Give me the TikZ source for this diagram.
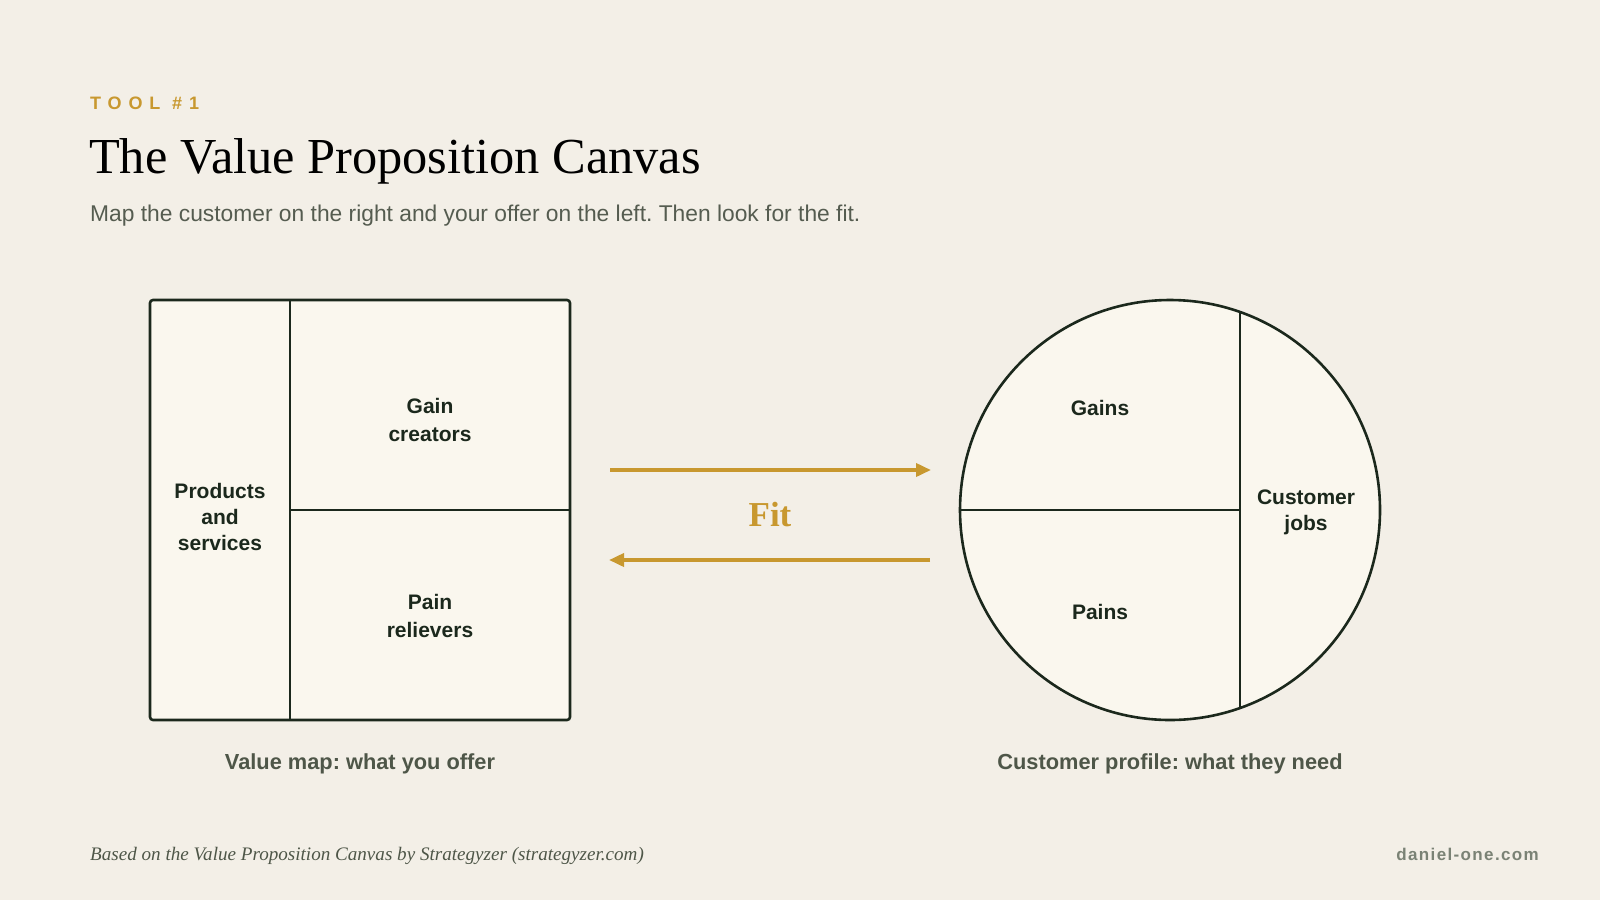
\documentclass[tikz,border=0pt]{standalone}
\usepackage{fontspec}
\setmainfont{Liberation Serif}
\setsansfont{Liberation Sans}
\usetikzlibrary{arrows.meta}
\definecolor{bg}{HTML}{F3EFE7}
\definecolor{panel}{HTML}{FAF7EE}
\definecolor{ink}{HTML}{1B281C}
\definecolor{gold}{HTML}{C8982F}
\definecolor{muted}{HTML}{555C50}
\definecolor{caption}{HTML}{4E5648}
\definecolor{faint}{HTML}{7A8275}
\frenchspacing
\tikzset{
  shapeline/.style={draw=ink, line width=2.6pt, fill=panel},
  divider/.style={draw=ink, line width=1.8pt},
  celltext/.style={font=\sffamily\bfseries\fontsize{21}{26}\selectfont, text=ink, align=center},
  widecell/.style={celltext, font=\sffamily\bfseries\fontsize{21}{28.5}\selectfont},
  fitarrow/.style={draw=gold, line width=3.6pt, -{Triangle[length=15pt,width=13pt]}},
  captiontext/.style={font=\sffamily\bfseries\fontsize{21.8}{24}\selectfont, text=caption},
}
\begin{document}
\begin{tikzpicture}[x=1pt,y=-1pt]
\useasboundingbox[fill=bg] (0,0) rectangle (1600,900);

% header
\node[anchor=west, inner sep=0, text=gold, font=\sffamily\bfseries\fontsize{18}{20}\selectfont\addfontfeature{LetterSpace=38}] (tool) at (90,103) {TOOL \#1};
\node[anchor=west, inner sep=0, text=black, font=\fontsize{50.4}{54}\selectfont] (title) at (89,161) {The Value Proposition Canvas};
\node[anchor=west, inner sep=0, text=muted, font=\sffamily\fontsize{22.8}{26}\selectfont] (sub) at (90,216) {Map the customer on the right and your offer on the left. Then look for the fit.};

% value map
\node[shapeline, rounded corners=3pt, minimum width=420pt, minimum height=420pt, inner sep=0] (vm) at (360,510) {};
\coordinate (vtop) at (290,300);
\coordinate (vbot) at (290,720);
\coordinate (hleft) at (290,510);
\coordinate (hright) at (570,510);
\draw[divider] (vtop) -- (vbot);
\draw[divider] (hleft) -- (hright);
\node[celltext] (prod) at (220,517) {Products\\and\\services};
\node[widecell] (gain) at (430,420) {Gain\\creators};
\node[widecell] (pain) at (430,616) {Pain\\relievers};

% customer profile
\node[shapeline, circle, minimum size=420pt, inner sep=0] (cp) at (1170,510) {};
\coordinate (ctop) at (1240,312);
\coordinate (cbot) at (1240,708);
\coordinate (cleft) at (960,510);
\coordinate (cmid) at (1240,510);
\draw[divider] (ctop) -- (cbot);
\draw[divider] (cleft) -- (cmid);
\node[celltext] (gains) at (1100,408) {Gains};
\node[celltext] (pains) at (1100,612) {Pains};
\node[celltext] (jobs) at (1306,512) {Customer\\jobs};

% fit arrows
\coordinate (a1s) at (610,470);
\coordinate (a1e) at (931,470);
\coordinate (a2s) at (930,560);
\coordinate (a2e) at (609,560);
\draw[fitarrow] (a1s) -- (a1e);
\draw[fitarrow] (a2s) -- (a2e);
\node[text=gold, font=\bfseries\fontsize{35}{38}\selectfont] (fit) at (770,515) {Fit};

% captions
\node[captiontext] (cap1) at (360,764) {Value map: what you offer};
\node[captiontext] (cap2) at (1170,764) {Customer profile: what they need};

% footer
\node[anchor=west, inner sep=0, text=caption, font=\itshape\fontsize{19.1}{22}\selectfont] (foot) at (90,856) {Based on the Value Proposition Canvas by Strategyzer (strategyzer.com)};
\node[anchor=east, inner sep=0, text=faint, font=\sffamily\bfseries\fontsize{17}{20}\selectfont\addfontfeature{LetterSpace=8}] (site) at (1539,854) {daniel-one.com};
\end{tikzpicture}
\end{document}
